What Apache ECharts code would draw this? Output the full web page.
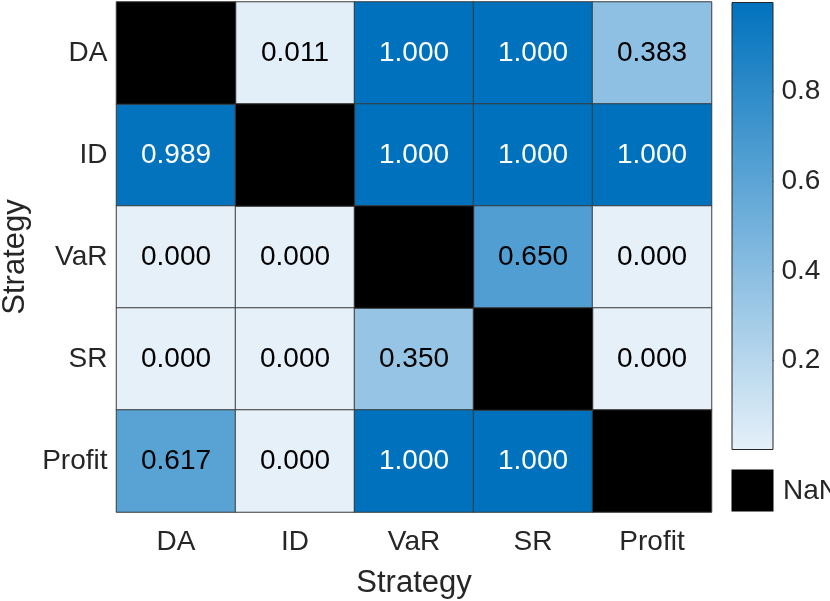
<!DOCTYPE html>
<html><head><meta charset="utf-8">
<script src="https://cdn.jsdelivr.net/npm/echarts@6/dist/echarts.min.js"></script>
<style>html,body{margin:0;padding:0;background:#fff}#c{width:830px;height:601px}</style>
</head><body><div id="c"></div>
<script>
var xCats = ['DA','ID','VaR','SR','Profit'];
var yCats = ['DA','ID','VaR','SR','Profit'];
// rows (top to bottom) x columns (left to right); null = NaN
var rowDA     = [null, 0.011, 1.000, 1.000, 0.383];
var rowID     = [0.989, null, 1.000, 1.000, 1.000];
var rowVaR    = [0.000, 0.000, null, 0.650, 0.000];
var rowSR     = [0.000, 0.000, 0.350, null, 0.000];
var rowProfit = [0.617, 0.000, 1.000, 1.000, null];
var rows = [rowDA, rowID, rowVaR, rowSR, rowProfit];
var cbTicks = [0.2, 0.4, 0.6, 0.8];

var FONT = '"Liberation Sans", Arial, Helvetica, sans-serif';
var lowC = '#e5f0f9', highC = '#0072bd';

var valData = [], nanData = [];
var yOrder = yCats.slice().reverse();
rows.forEach(function(r, ri){
  var yi = yCats.length - 1 - ri;
  r.forEach(function(v, ci){
    if (v === null) {
      nanData.push([ci, yi, 1]);
    } else {
      valData.push({value:[ci, yi, v], label:{color: v > 0.7 ? '#ffffff' : '#000000'}});
    }
  });
});

var chart = echarts.init(document.getElementById('c'));
chart.setOption({
  animation:false,
  textStyle:{fontFamily:FONT},
  grid:[
    {left:116.5, top:2, width:595, height:510, outerBoundsMode:'none', containLabel:false},
    {left:731.5, top:2, width:42, height:448, outerBoundsMode:'none', containLabel:false}
  ],
  xAxis:[
    {type:'category', data:xCats, gridIndex:0, position:'bottom',
     axisLine:{show:false}, axisTick:{show:false}, splitArea:{show:false},
     axisLabel:{fontSize:28, color:'#262626', margin:16, fontFamily:FONT},
     name:'Strategy', nameLocation:'middle', nameGap:56,
     nameTextStyle:{fontSize:31, color:'#262626', fontFamily:FONT}},
    {type:'category', data:['cb'], gridIndex:1, show:false}
  ],
  yAxis:[
    {type:'category', data:yOrder, gridIndex:0,
     axisLine:{show:false}, axisTick:{show:false}, splitArea:{show:false},
     axisLabel:{fontSize:28, color:'#262626', margin:9, fontFamily:FONT},
     name:'Strategy', nameLocation:'middle', nameGap:86, nameRotate:90,
     nameTextStyle:{fontSize:31, color:'#262626', fontFamily:FONT}},
    {type:'value', gridIndex:1, min:0, max:1, interval:0.2, position:'right',
     axisLine:{show:false}, splitLine:{show:false},
     axisTick:{show:true, inside:true, length:7, customValues:cbTicks, lineStyle:{color:'#262626', width:1}},
     axisLabel:{fontSize:28, color:'#262626', margin:8, fontFamily:FONT, customValues:cbTicks,
       formatter:function(v){ return v.toFixed(1); }}}
  ],
  visualMap:{show:false, min:0, max:1, seriesIndex:0, dimension:2,
    inRange:{color:[lowC, highC]}},
  series:[
    {type:'heatmap', xAxisIndex:0, yAxisIndex:0, data:valData,
     itemStyle:{borderColor:'#3b3b3b', borderWidth:1},
     label:{show:true, fontSize:28, fontFamily:FONT,
       formatter:function(p){ return p.value[2].toFixed(3); }},
     emphasis:{disabled:true}},
    {type:'heatmap', xAxisIndex:0, yAxisIndex:0, data:nanData,
     itemStyle:{color:'#000000', borderColor:'#3b3b3b', borderWidth:1},
     label:{show:false}, emphasis:{disabled:true}},
    {type:'bar', xAxisIndex:1, yAxisIndex:1, data:[1], barWidth:'100%', silent:true,
     itemStyle:{borderColor:'#262626', borderWidth:1,
       color:new echarts.graphic.LinearGradient(0,0,0,1,[{offset:0,color:highC},{offset:1,color:lowC}])}}
  ],
  graphic:[
    {type:'rect', shape:{x:731.5, y:469.5, width:42, height:42}, style:{fill:'#000'}},
    {type:'text', x:783, y:477, style:{text:'NaN', fontSize:28, fill:'#262626', fontFamily:FONT}}
  ]
});
</script></body></html>
